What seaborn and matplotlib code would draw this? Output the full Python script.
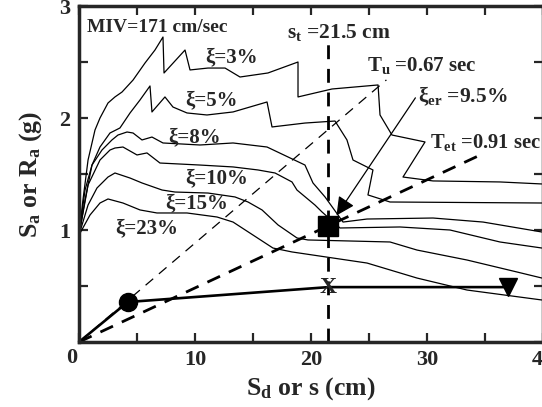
import numpy as np
import pandas as pd
import matplotlib
matplotlib.use("Agg")
import matplotlib.pyplot as plt
import seaborn as sns

# ---------------- data ----------------
sd_3 = [0, 0.34, 0.78, 1.38, 1.81, 2.5, 3.10, 3.71, 4.66, 5.69, 6.55, 7.24, 7.33, 9.14, 9.57,
        11.12, 12.59, 13.88, 16.29, 18.88, 18.88, 21.81, 25.78, 25.95, 26.98, 29.83, 27.93,
        30.52, 36.29, 39.91]
sa_3 = [0.955, 1.268, 1.625, 1.893, 2.0, 2.134, 2.188, 2.232, 2.339, 2.491, 2.607, 2.723, 2.402,
        2.607, 2.429, 2.446, 2.446, 2.366, 2.402, 2.5, 2.188, 2.259, 2.295, 2.027, 1.848, 1.786,
        1.473, 1.438, 1.429, 1.411]

sd_5 = [0, 0.52, 1.12, 1.81, 2.67, 3.53, 4.40, 5.26, 6.12, 6.29, 7.41, 8.10, 9.31, 11.03, 13.28,
        16.21, 16.64, 19.48, 22.07, 23.1, 23.62, 25.34, 24.91, 26.81, 39.91]
sa_5 = [0.955, 1.268, 1.58, 1.741, 1.866, 1.911, 2.045, 2.161, 2.286, 2.054, 2.188, 2.098, 2.045,
        2.027, 2.054, 2.143, 1.92, 1.955, 1.973, 1.804, 1.625, 1.536, 1.313, 1.25, 1.241]

sd_8 = [0, 0.52, 1.12, 1.98, 2.84, 3.36, 4.14, 4.66, 5.43, 6.29, 7.24, 10.43, 13.28, 16.21, 18.02,
        19.48, 20.17, 21.21, 22.33, 22.76, 24.83, 30.52, 34.83, 39.91]
sa_8 = [0.955, 1.357, 1.58, 1.714, 1.804, 1.848, 1.875, 1.866, 1.804, 1.83, 1.777, 1.759, 1.777,
        1.741, 1.652, 1.58, 1.42, 1.295, 1.134, 1.071, 1.098, 1.107, 1.071, 0.982]

sd_10 = [0, 0.78, 1.81, 2.67, 3.10, 3.79, 5.0, 5.86, 6.98, 10.43, 13.28, 15.43, 16.9, 18.36, 18.79,
         20.34, 20.95, 22.5, 27.67, 31.98, 36.29, 39.91]
sa_10 = [0.955, 1.402, 1.625, 1.714, 1.732, 1.741, 1.67, 1.688, 1.598, 1.58, 1.563, 1.536, 1.509,
         1.429, 1.357, 1.223, 1.161, 1.018, 1.027, 1.0, 0.893, 0.839]

sd_15 = [0, 0.78, 1.55, 2.5, 3.10, 4.40, 5.43, 7.16, 8.28, 11.12, 13.45, 14.57, 15.78, 17.16, 18.79,
         19.74, 26.81, 29.14, 33.45, 37.76, 39.91]
sa_15 = [0.955, 1.223, 1.375, 1.473, 1.509, 1.464, 1.42, 1.357, 1.339, 1.33, 1.295, 1.25, 1.179,
         1.045, 0.929, 0.911, 0.893, 0.821, 0.732, 0.625, 0.571]

sd_23 = [0, 0.95, 1.81, 2.5, 3.79, 5.26, 6.72, 9.31, 11.9, 13.28, 15.0, 16.72, 18.36, 24.83, 29.14,
         33.45, 39.91]
sa_23 = [0.955, 1.134, 1.241, 1.277, 1.241, 1.179, 1.152, 1.152, 1.116, 1.071, 0.955, 0.839, 0.804,
         0.705, 0.571, 0.464, 0.375]

curve_names = ["3", "5", "8", "10", "15", "23"]
curve_sd = [sd_3, sd_5, sd_8, sd_10, sd_15, sd_23]
curve_sa = [sa_3, sa_5, sa_8, sa_10, sa_15, sa_23]

# bilinear capacity curve
cap_sd = [0, 4.2, 21.5, 37.0]
cap_sa = [0, 0.357, 0.49, 0.49]

# radial period lines (end points)
tu_sd = [0, 26.5]
tu_sa = [0, 2.34]
tet_sd = [0, 34.6]
tet_sa = [0, 1.67]

s_t = 21.5
perf_sa = 1.04   # performance point (square)

# ---------------- style ----------------
sns.set_theme(style="ticks")
plt.rcParams["font.family"] = ["Liberation Serif", "DejaVu Serif"]
plt.rcParams["font.weight"] = "bold"
plt.rcParams["mathtext.fontset"] = "custom"
plt.rcParams["mathtext.rm"] = "Liberation Serif:bold"
plt.rcParams["mathtext.it"] = "Liberation Serif:bold"
plt.rcParams["mathtext.bf"] = "Liberation Serif:bold"

fig = plt.figure(figsize=(5.42, 4.07), dpi=100)
ax = fig.add_axes([79 / 542, 65 / 407, 464 / 542, 336 / 407])

rows = []
for name, xs, ys in zip(curve_names, curve_sd, curve_sa):
    for i, (x, y) in enumerate(zip(xs, ys)):
        rows.append({"curve": name, "order": i, "Sd": x, "Sa": y})
df = pd.DataFrame(rows)
for name in curve_names:
    sub = df[df["curve"] == name]
    sns.lineplot(data=sub, x="Sd", y="Sa", sort=False, estimator=None,
                 color="black", lw=0.9, ax=ax)

# dashed radial lines
sns.lineplot(x=tu_sd, y=tu_sa, color="black", lw=0.9, ax=ax,
             estimator=None, sort=False).lines[-1].set_dashes([8, 6])
sns.lineplot(x=tet_sd, y=tet_sa, color="black", lw=2.0, ax=ax,
             estimator=None, sort=False).lines[-1].set_dashes([5, 3.5])
ax.plot([s_t, s_t], [0, 2.67], color="black", lw=2.0, dashes=[5, 3.5])

# capacity curve
sns.lineplot(x=cap_sd, y=cap_sa, color="black", lw=1.9, ax=ax, estimator=None, sort=False)
ax.plot([cap_sd[1]], [cap_sa[1]], marker="o", ms=13, color="black")
ax.plot([cap_sd[3]], [cap_sa[3]], marker="v", ms=13, color="black")
ax.text(cap_sd[2], cap_sa[2], "X", ha="center", va="center", fontsize=17, fontweight="bold")
ax.plot([s_t], [perf_sa], marker="s", ms=14, color="black")

# arrow to performance point
ax.annotate("", xy=(22.2, 1.13), xytext=(29.0, 2.18),
            arrowprops=dict(arrowstyle="-|>", color="black", lw=0.9, mutation_scale=28,
                            shrinkA=0, shrinkB=0))

# labels
ax.text(0.7, 2.81, "MIV=171 cm/sec", fontsize=14, fontweight="bold", va="center")
lab_pos = {"3": (10.86, 2.545), "5": (9.14, 2.16), "8": (7.67, 1.83),
           "10": (9.14, 1.464), "15": (7.41, 1.241), "23": (3.10, 1.018)}
for name in curve_names:
    x, y = lab_pos[name]
    ax.text(x, y, "ξ=" + name + "%", fontsize=15, fontweight="bold", va="center")
ax.text(17.93, 2.76, r"s$_{t}$ =21.5 cm", fontsize=15.5, fontweight="bold", va="center")
ax.text(24.83, 2.47, r"T$_{u}$ =0.67 sec", fontsize=15, fontweight="bold", va="center")
ax.text(29.22, 2.19, r"ξ$_{er}$ =9.5%", fontsize=15.5, fontweight="bold", va="center")
ax.text(30.26, 1.78, r"T$_{et}$ =0.91 sec", fontsize=14.8, fontweight="bold", va="center")

# axes
ax.set_xlim(0, 40)
ax.set_ylim(0, 3)
ax.set_xticks(np.arange(0, 41, 5))
ax.set_xticklabels(["", "", "10", "", "20", "", "30", "", "40"])
ax.set_yticks(np.arange(0, 3.01, 0.5))
ax.set_yticklabels(["", "", "1", "", "2", "", "3"])
ax.tick_params(direction="in", length=6.5, width=1.6, top=True, right=True,
               labelsize=16, pad=6)
for lab in ax.get_xticklabels() + ax.get_yticklabels():
    lab.set_fontweight("bold")
for sp in ax.spines.values():
    sp.set_linewidth(2.5)
    sp.set_visible(True)
ax.text(-0.003, -0.018, "0", transform=ax.transAxes, ha="right", va="top",
        fontsize=16, fontweight="bold")

ax.set_xlabel(r"S$_{d}$ or s (cm)", fontsize=18.5, fontweight="bold")
ax.set_ylabel(r"S$_{a}$ or R$_{a}$ (g)", fontsize=18.5, fontweight="bold")
ax.xaxis.set_label_coords(0.5, -0.1)
ax.yaxis.set_label_coords(-0.075, 0.5)

fig.savefig("out.png", dpi=100)
